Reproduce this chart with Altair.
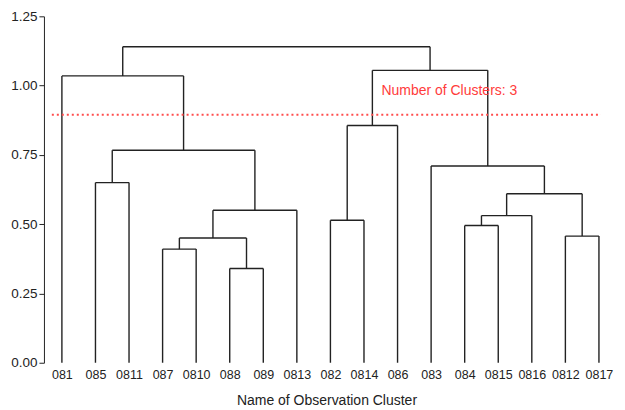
import json
import altair as alt
import pandas as pd

# Leaf labels in dendrogram order
leaves = ["081", "085", "0811", "087", "0810", "088", "089", "0813", "082",
          "0814", "086", "083", "084", "0815", "0816", "0812", "0817"]

# Merges: node ids 0..16 are leaves, 17.. are merged clusters (in order)
merge_left = [5, 3, 18, 19, 1, 21, 0, 8, 12, 25, 15, 26, 11, 24, 30, 23]
merge_right = [6, 4, 17, 7, 2, 20, 22, 9, 13, 14, 16, 27, 28, 10, 29, 31]
merge_height = [0.34, 0.41, 0.45, 0.55, 0.65, 0.767, 1.035, 0.514, 0.495,
                0.531, 0.457, 0.61, 0.71, 0.856, 1.055, 1.14]

cut_height = 0.895
cut_span = [-0.3, 16.06]
cut_label = "Number of Clusters: 3"

# build segments
n = len(leaves)
pos = {i: float(i) for i in range(n)}
hgt = {i: 0.0 for i in range(n)}
segs = []
for k, (a, b, h) in enumerate(zip(merge_left, merge_right, merge_height)):
    node = n + k
    xa, xb = pos[a], pos[b]
    segs.append({"x": xa, "x2": xb, "y": h, "y2": h})
    segs.append({"x": xa, "x2": xa, "y": hgt[a], "y2": h})
    segs.append({"x": xb, "x2": xb, "y": hgt[b], "y2": h})
    pos[node] = (xa + xb) / 2
    hgt[node] = h
df = pd.DataFrame(segs)

xscale = alt.Scale(domain=[-0.535, 16.3], nice=False, zero=False)
yscale = alt.Scale(domain=[0, 1.25], nice=False)

label_expr = json.dumps(leaves) + "[datum.value]"

xaxis = alt.Axis(values=list(range(n)), labelExpr=label_expr,
                 title="Name of Observation Cluster", domain=False,
                 ticks=False, grid=False, labelFontSize=12.5,
                 labelColor="#222222", labelPadding=6,
                 labelFont="Liberation Sans", titleFont="Liberation Sans",
                 titleFontSize=14, titleFontWeight="normal",
                 titleColor="#222222", titlePadding=12)
yaxis = alt.Axis(values=[0, 0.25, 0.5, 0.75, 1.0, 1.25], format=".2f",
                 title=None, grid=False, domainColor="#222222",
                 tickColor="#222222", tickSize=5, labelFontSize=13.5,
                 labelFont="Liberation Sans", labelColor="#222222",
                 labelPadding=2)

tree = alt.Chart(df).mark_rule(color="#222222", strokeWidth=1.4).encode(
    x=alt.X("x:Q", scale=xscale, axis=xaxis),
    x2="x2:Q",
    y=alt.Y("y:Q", scale=yscale, axis=yaxis),
    y2="y2:Q",
)

cut_df = pd.DataFrame({"x": [cut_span[0]], "x2": [cut_span[1]], "y": [cut_height]})
cut = alt.Chart(cut_df).mark_rule(color="#ff4d4d", strokeWidth=2,
                                  strokeDash=[2, 3]).encode(
    x=alt.X("x:Q", scale=xscale, axis=xaxis), x2="x2:Q",
    y=alt.Y("y:Q", scale=yscale, axis=yaxis))

txt_df = pd.DataFrame({"x": [9.52], "y": [0.982], "t": [cut_label]})
txt = alt.Chart(txt_df).mark_text(align="left", baseline="middle", color="#ff3b3b",
                                  fontSize=14, font="Liberation Sans").encode(
    x=alt.X("x:Q", scale=xscale, axis=xaxis),
    y=alt.Y("y:Q", scale=yscale, axis=yaxis), text="t:N")

chart = alt.layer(tree, cut, txt).properties(
    width=566, height=347,
    background="white",
    autosize=alt.AutoSizeParams(type="none"),
    padding={"left": 36, "top": 8, "right": 8, "bottom": 46},
).configure_view(stroke=None).configure_axis(grid=False)

chart.save("out.html", embed_options={"renderer": "svg", "actions": False})
